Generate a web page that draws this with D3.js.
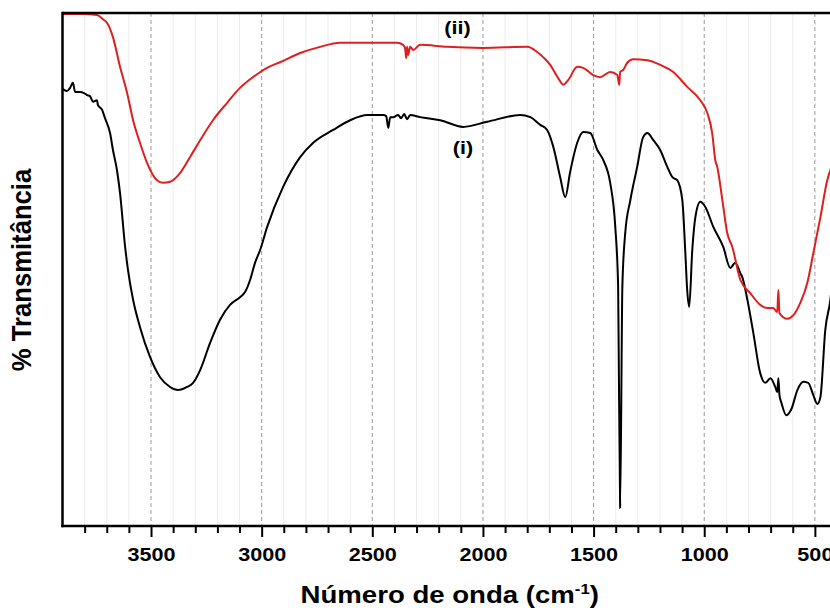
<!DOCTYPE html>
<html>
<head>
<meta charset="utf-8">
<script src="https://cdn.jsdelivr.net/npm/d3@7"></script>
<style>
  html, body { margin: 0; padding: 0; background: #fff; }
  svg { display: block; }
  text { font-family: "Liberation Sans", Arial, sans-serif; font-weight: bold; }
</style>
</head>
<body>
<svg id="chart" width="830" height="608"></svg>
<script>
// FTIR spectra: wavenumber (cm-1) and % transmittance (arbitrary offset)
const wavenumberI = [3900,3880,3866,3853,3843,3821,3803,3789,3776,3762,3744,3740,3721,3708,3685,3672,3654,3640,3617,3604,3581,3550,3505,3459,3414,3378,3337,3310,3278,3233,3188,3143,3098,3075,3052,3030,3007,2975,2903,2826,2767,2677,2600,2523,2451,2437,2428,2419,2406,2383,2370,2356,2343,2329,2284,2193,2089,1981,1832,1786,1741,1710,1682,1651,1628,1606,1574,1547,1515,1483,1456,1425,1402,1389,1380,1370,1357,1334,1303,1276,1257,1230,1199,1167,1144,1122,1099,1086,1077,1068,1054,1040,1018,995,959,914,882,860,837,828,805,778,747,724,701,679,670,665,660,651,629,606,579,552,530,507,489,475,453,430,412,400];
const transI = [85.2,84.8,85.4,86.4,84.6,84.6,84.4,84.0,83.8,82.7,83.0,82.1,81.1,79.5,76.6,73.3,69.4,64.9,54.4,49.9,44.1,38.8,33.0,29.0,27.1,26.5,27.1,27.9,30.4,35.7,40.2,43.1,44.6,45.6,48.0,51.3,53.8,58.3,66.1,71.9,74.7,77.2,79.1,80.1,80.1,79.9,77.6,79.7,79.7,80.1,79.5,80.3,79.3,80.1,79.7,79.1,77.8,78.8,80.1,79.7,78.2,77.2,73.9,68.0,64.1,69.0,74.7,76.8,76.6,73.3,71.3,66.9,58.3,46.6,3.5,46.6,57.1,63.5,70.0,75.8,76.6,75.2,73.3,70.0,68.0,67.4,63.5,53.8,46.0,42.7,53.8,60.2,63.2,62.2,58.3,54.4,50.3,51.3,49.3,48.5,44.1,37.6,29.8,27.9,28.8,27.1,26.1,28.8,25.5,24.0,21.6,22.8,26.5,28.1,27.9,25.5,23.8,25.1,38.2,44.1,51.9,55.8];

const wavenumberII = [3900,3807,3744,3717,3699,3672,3640,3608,3581,3550,3518,3473,3446,3414,3369,3324,3278,3220,3156,3098,3039,2976,2917,2826,2736,2646,2523,2388,2361,2352,2347,2343,2338,2329,2315,2284,2163,1999,1800,1755,1728,1696,1660,1637,1615,1574,1547,1502,1470,1425,1393,1384,1380,1366,1348,1321,1257,1199,1140,1077,1018,986,964,950,941,918,896,873,837,792,747,715,688,670,665,660,625,597,566,534,507,475,444,430,400];
const transII = [99.8,99.8,99.6,98.8,98.1,95.3,89.5,84.4,79.1,74.7,70.8,67.4,66.9,67.1,68.8,71.9,75.2,79.1,82.5,85.4,87.5,89.3,90.4,92.2,93.4,94.2,94.2,94.2,93.8,93.2,91.2,93.4,91.8,93.4,92.8,93.8,93.4,93.2,93.4,92.4,91.4,89.9,87.3,86.0,86.9,89.5,89.3,87.9,87.5,88.5,87.9,86.0,88.5,88.9,90.3,91.0,90.8,89.9,88.5,85.6,83.0,80.5,76.6,71.3,70.0,63.5,57.1,54.4,48.0,45.4,43.1,42.5,42.5,41.7,46.0,41.5,40.4,41.1,43.5,47.4,53.2,60.2,67.4,69.4,73.3];

const majorTicks = [3500, 3000, 2500, 2000, 1500, 1000, 500];
const minorTicks = d3.range(3800, 399, -100).filter(t => !majorTicks.includes(t));
const gridLines = d3.range(3800, 399, -100);
const seriesLabels = ["(i)", "(ii)"];
const seriesColors = ["#000000", "#dd1f1f"];

const svg = d3.select("#chart");
const plot = { left: 62.5, right: 837, top: 13, bottom: 526 };
const stretch = "scale(1.2,1)";

const x = d3.scaleLinear().domain([3900, 400]).range([plot.left, plot.right]);
const y = d3.scaleLinear().domain([0, 100]).range([plot.bottom, plot.top]);

// light grid every 100 cm-1, dashed at the labelled ticks
svg.append("g").selectAll("line").data(gridLines.filter(t => !majorTicks.includes(t))).join("line")
  .attr("x1", d => x(d)).attr("x2", d => x(d))
  .attr("y1", plot.top).attr("y2", plot.bottom)
  .attr("stroke", "#ececec").attr("stroke-width", 1);
svg.append("g").selectAll("line").data(majorTicks).join("line")
  .attr("x1", d => x(d)).attr("x2", d => x(d))
  .attr("y1", plot.top).attr("y2", plot.bottom)
  .attr("stroke", "#9a9a9a").attr("stroke-width", 1)
  .attr("stroke-dasharray", "4,3");

// spectra
const line = d3.line().x(d => x(d[0])).y(d => y(d[1])).curve(d3.curveMonotoneX);
const spectra = [d3.zip(wavenumberI, transI), d3.zip(wavenumberII, transII)];
svg.append("g").selectAll("path").data(spectra).join("path")
  .attr("d", d => line(d.slice().sort((a, b) => a[0] - b[0])))
  .attr("fill", "none")
  .attr("stroke", (d, i) => seriesColors[i])
  .attr("stroke-width", 2)
  .attr("stroke-linejoin", "round");

// frame
svg.append("line").attr("x1", plot.left).attr("x2", plot.right)
  .attr("y1", plot.top).attr("y2", plot.top)
  .attr("stroke", "#000").attr("stroke-width", 2.5);
svg.append("line").attr("x1", plot.left).attr("x2", plot.left)
  .attr("y1", plot.top - 1.2).attr("y2", plot.bottom + 1.2)
  .attr("stroke", "#000").attr("stroke-width", 2.5);

// bottom axis: labelled ticks plus minor ticks every 100 cm-1
const axisMinor = d3.axisBottom(x).tickValues(minorTicks).tickSize(7).tickFormat("");
const gMinor = svg.append("g").attr("transform", `translate(0,${plot.bottom})`).call(axisMinor);
gMinor.select(".domain").remove();
gMinor.selectAll(".tick line").attr("stroke", "#000").attr("stroke-width", 2);

const axisMajor = d3.axisBottom(x).tickValues(majorTicks).tickSize(11).tickPadding(11).tickFormat(d3.format("d"));
const gMajor = svg.append("g").attr("transform", `translate(0,${plot.bottom})`).call(axisMajor);
gMajor.select(".domain").attr("stroke", "#000").attr("stroke-width", 2.5)
  .attr("d", `M${plot.left - 1.2},0H${plot.right}`);
gMajor.selectAll(".tick line").attr("stroke", "#000").attr("stroke-width", 2);
gMajor.selectAll(".tick text")
  .attr("font-size", 18).attr("font-family", "Liberation Sans, Arial, sans-serif")
  .attr("font-weight", "bold").attr("fill", "#000")
  .attr("transform", stretch);

// axis titles
const xTitle = svg.append("text")
  .attr("transform", `translate(${(plot.left + plot.right) / 2},603) ${stretch}`)
  .attr("text-anchor", "middle").attr("font-size", 23).attr("fill", "#000");
xTitle.append("tspan").text("Número de onda (cm");
xTitle.append("tspan").attr("font-size", 14).attr("dy", -9).text("-1");
xTitle.append("tspan").attr("dy", 9).text(")");

svg.append("text")
  .attr("transform", "translate(31,270) rotate(-90) scale(1.07,1.12)")
  .attr("text-anchor", "middle").attr("font-size", 24).attr("fill", "#000")
  .text("% Transmitância");

// series labels
const labelPos = [[2090, 148], [2115, 28]];
svg.append("g").selectAll("text").data(seriesLabels).join("text")
  .attr("transform", (d, i) => `translate(${x(labelPos[i][0])},${labelPos[i][1]}) ${stretch}`)
  .attr("text-anchor", "middle").attr("dy", "0.35em")
  .attr("font-size", 18).attr("fill", "#000")
  .text(d => d);
</script>
</body>
</html>
